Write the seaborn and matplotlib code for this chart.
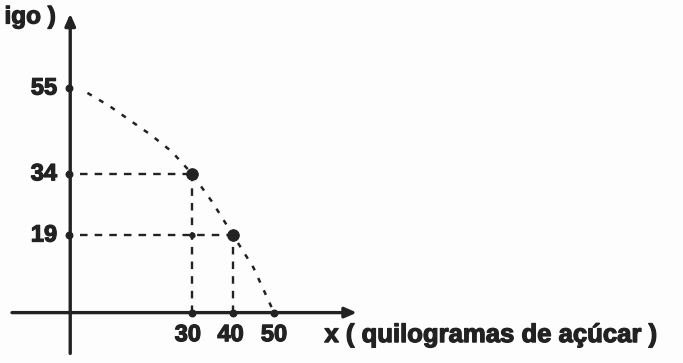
import matplotlib
matplotlib.use("Agg")
import matplotlib.pyplot as plt
import matplotlib.patheffects as pe
import seaborn as sns
import pandas as pd

sns.set_theme(style="white")
plt.rcParams['font.family'] = ['Liberation Sans', 'DejaVu Sans']

# --- data ---
y_ticks = [55, 34, 19]
x_ticks = [30, 40, 50]
x_tick_nudge = [-1.0, -0.6, 0.0]
points_x = [30, 40]
points_y = [34, 19]
curve_x = [4.5, 10, 15, 20, 25, 30, 35, 40, 45, 50]
curve_y = [53.8, 50.5, 47.0, 43.5, 39.5, 34, 27, 19, 11.0, 0]
x_label = "x ( quilogramas de açúcar )"
y_label_fragment = "igo )"

ink = "#222222"
thick = [pe.withStroke(linewidth=0.9, foreground=ink)]

fig = plt.figure(figsize=(6.83, 3.63), dpi=100)
fig.patch.set_facecolor("#fdfdfd")
ax = fig.add_axes([0, 0, 1, 1])
ax.set_facecolor("#fdfdfd")
ax.set_xlim(-16.83, 149.76)
ax.set_ylim(-12.34, 76.56)
ax.axis("off")

# axes with arrows
ax.annotate("", xy=(70.2, 0), xytext=(-13.9, 0),
            arrowprops=dict(arrowstyle="-|>,head_length=0.5,head_width=0.22",
                            color=ink, lw=2.4, mutation_scale=14,
                            shrinkA=0, shrinkB=0))
ax.annotate("", xy=(0.3, 73.2), xytext=(0.3, -10.0),
            arrowprops=dict(arrowstyle="-|>,head_length=0.5,head_width=0.22",
                            color=ink, lw=2.4, mutation_scale=14,
                            shrinkA=0, shrinkB=0))

# dashed guides
for px, py in zip(points_x, points_y):
    ax.plot([2.8, px], [py, py], ls=(0, (3.2, 3)), color=ink, lw=1.7)
    ax.plot([px, px], [0, py], ls=(0, (3.2, 3)), color=ink, lw=1.7)

# curve
curve = pd.DataFrame({"x": curve_x, "y": curve_y})
sns.lineplot(data=curve, x="x", y="y", ax=ax, color=ink, lw=1.8,
             linestyle=(0, (2.0, 3.4)), sort=False)

# points
pts = pd.DataFrame({"x": points_x, "y": points_y})
sns.scatterplot(data=pts, x="x", y="y", ax=ax, color=ink, s=70,
                edgecolor=ink, zorder=5)
ax.set_xlabel("")
ax.set_ylabel("")

# small tick marks on axes
ax.scatter([0] * len(y_ticks), y_ticks, color=ink, s=22, zorder=5)
ax.scatter(x_ticks, [0] * len(x_ticks), color=ink, s=22, zorder=5)
ax.scatter([30], [19], color=ink, s=12, zorder=5)

# tick labels
for v in y_ticks:
    ax.text(-2.9, v, str(v), ha="right", va="center", fontsize=17,
            fontweight="bold", color=ink, path_effects=thick)
for v, d in zip(x_ticks, x_tick_nudge):
    ax.text(v + d, -5.4, str(v), ha="center", va="center", fontsize=17,
            fontweight="bold", color=ink, path_effects=thick)

ax.text(62.3, -5.5, x_label, ha="left", va="center", fontsize=18.5,
        fontweight="bold", color=ink, path_effects=thick)
ax.text(-3.2, 72.4, y_label_fragment, ha="right", va="center", fontsize=17.5,
        fontweight="bold", color=ink, path_effects=thick)

fig.savefig("out.png", dpi=100, facecolor=fig.get_facecolor())
